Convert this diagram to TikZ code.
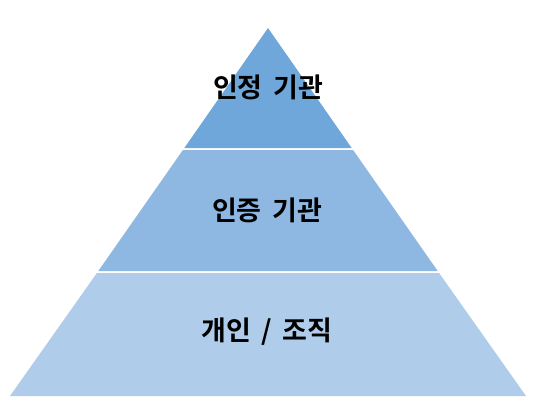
\documentclass[tikz,border=0pt]{standalone}
\usepackage{fontspec}
\newfontfamily\kr[WordSpace=1.7]{Noto Sans CJK KR Bold}
\definecolor{ctop}{RGB}{111,167,219}
\definecolor{cmid}{RGB}{142,184,226}
\definecolor{cbot}{RGB}{175,205,234}
\tikzset{lbl/.style={font=\kr\fontsize{27}{31}\selectfont, text=black, inner sep=0pt}}
\begin{document}
\begin{tikzpicture}[x=1pt,y=-1pt]
\useasboundingbox (0,0) rectangle (541,416);
\fill[cbot] (10,396) -- (526,396) -- (439.1,273) -- (96.9,273) -- cycle;
\fill[cmid] (98.3,271) -- (437.7,271) -- (353.1,150) -- (182.9,150) -- cycle;
\fill[ctop] (184.3,148) -- (351.7,148) -- (268,28) -- cycle;
\node[lbl] (t1) at (268,87) {인정 기관};
\node[lbl] (t2) at (267,210) {인증 기관};
\node[lbl] (t3) at (267,332) {개인 / 조직};
\end{tikzpicture}
\end{document}
